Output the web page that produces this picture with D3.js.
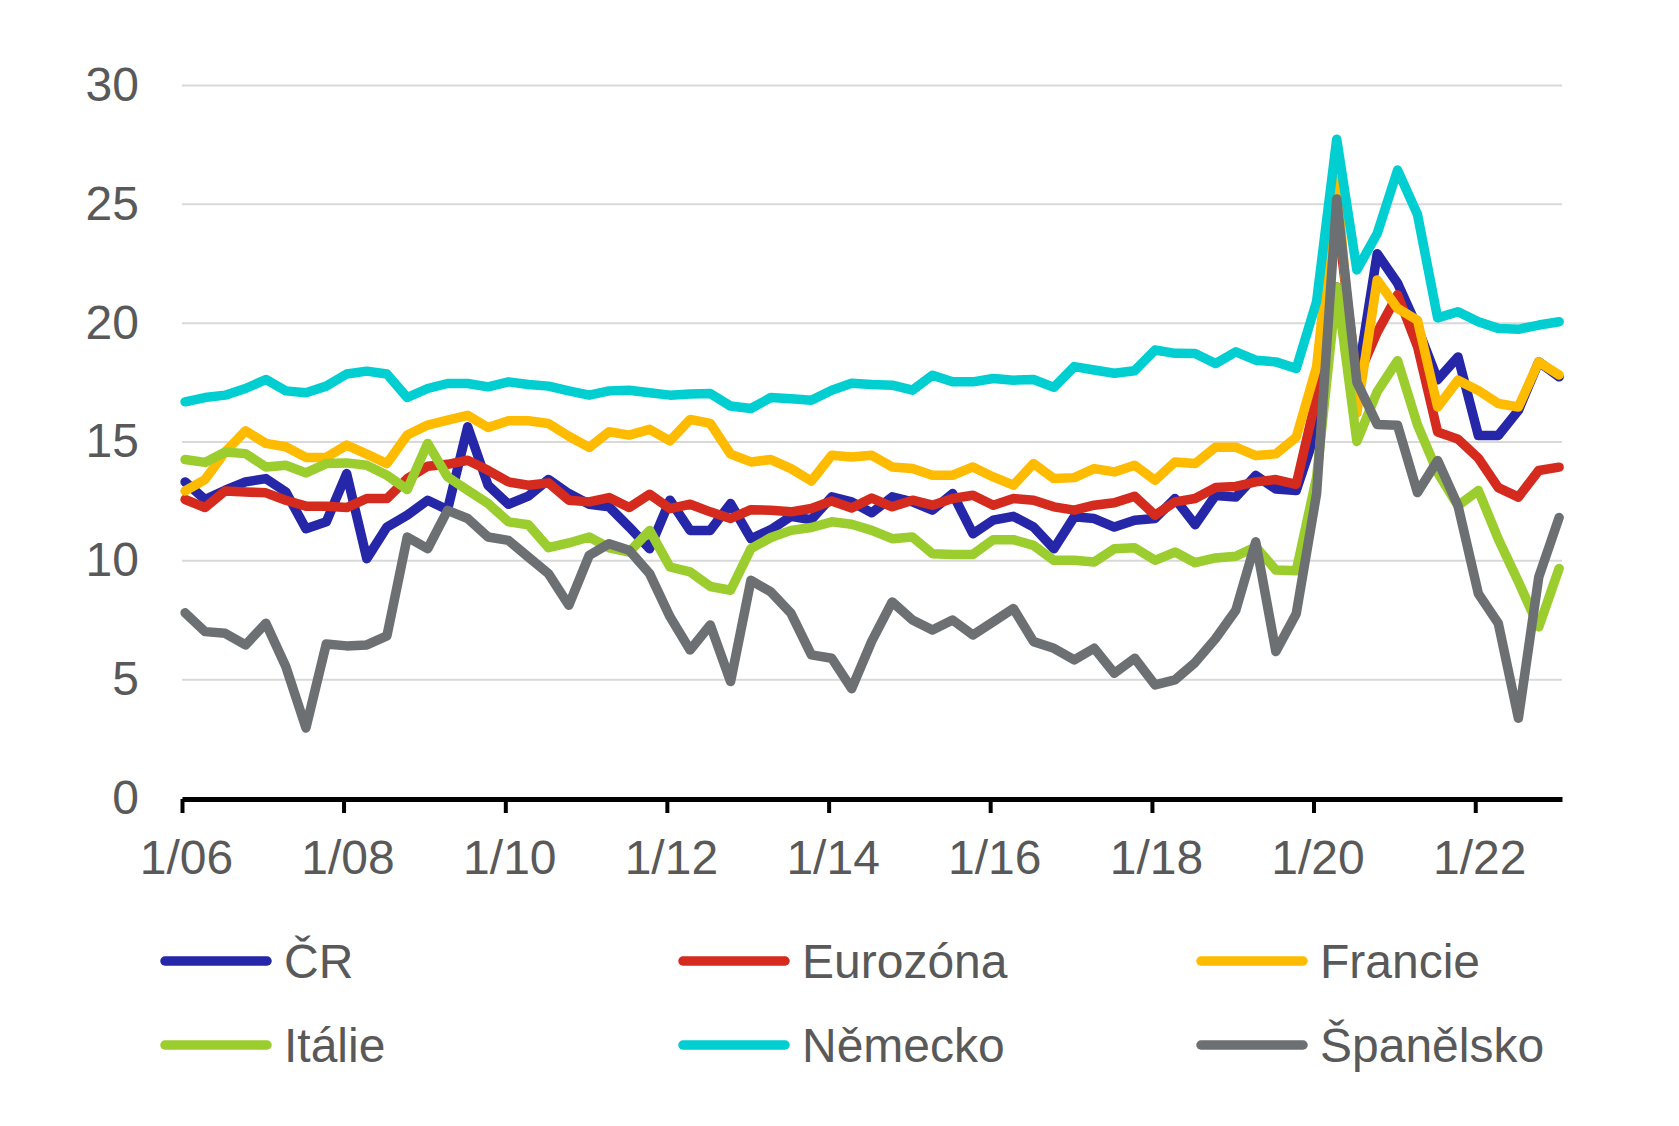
<!DOCTYPE html>
<html>
<head>
<meta charset="utf-8">
<script src="https://cdn.jsdelivr.net/npm/d3@7"></script>
<style>
  html, body { margin: 0; padding: 0; background: #ffffff; }
  svg { display: block; font-family: Arial, "Liberation Sans", sans-serif; }
</style>
</head>
<body>
<svg id="chart" width="1679" height="1126"></svg>
<script>
// ---- data (quarterly, 2006Q1 – 2023Q1) ----
const startYear = 2006;
const nQuarters = 69;
const quarters = d3.range(nQuarters).map(i => `${startYear + Math.floor(i / 4)}Q${(i % 4) + 1}`);

const seriesNames = ["ČR", "Eurozóna", "Francie", "Itálie", "Německo", "Španělsko"];
const seriesColors = ["#2626a8", "#d52b1e", "#ffbb00", "#9bcd2f", "#00ced1", "#6d7072"];

const cr = [13.3, 12.56, 12.95, 13.3, 13.44, 12.88, 11.33, 11.62, 13.65, 10.07, 11.4, 11.9, 12.53, 12.13, 15.62, 13.16, 12.36, 12.7,
  13.4, 12.81, 12.36, 12.25, 11.4, 10.49, 12.53, 11.26, 11.26, 12.39, 10.91, 11.29, 11.85, 11.71, 12.67, 12.46, 12.0,
  12.67, 12.46, 12.11, 12.81, 11.12, 11.69, 11.85, 11.4, 10.49, 11.83, 11.76, 11.4, 11.69, 11.76, 12.6, 11.5, 12.73, 12.66, 13.57, 13.0, 12.94,
  15.5, 21.5, 17.5, 22.9, 21.66, 19.8, 17.6, 18.56, 15.25, 15.25, 16.31, 18.35, 17.72];

const eurozona = [12.56, 12.22, 12.92, 12.88, 12.84, 12.53, 12.28, 12.28, 12.22, 12.6, 12.6, 13.44, 13.96, 14.04, 14.21, 13.79, 13.3, 13.16,
  13.26, 12.53, 12.46, 12.64, 12.22, 12.78, 12.18, 12.36, 12.04, 11.76, 12.13, 12.11, 12.04, 12.18, 12.5, 12.2, 12.62,
  12.25, 12.53, 12.32, 12.6, 12.74, 12.32, 12.6, 12.53, 12.25, 12.11, 12.32, 12.42, 12.7, 11.9, 12.46, 12.6, 13.06, 13.11, 13.3, 13.4, 13.2,
  16.9, 24.6, 17.6, 19.6, 21.17, 19.0, 15.4, 15.1, 14.3, 13.06, 12.66, 13.78, 13.92];

const francie = [12.92, 13.4, 14.56, 15.45, 14.92, 14.78, 14.33, 14.33, 14.85, 14.47, 14.07, 15.27, 15.69, 15.9, 16.1, 15.59, 15.87, 15.87,
  15.76, 15.22, 14.75, 15.41, 15.27, 15.51, 15.03, 15.93, 15.76, 14.47, 14.14, 14.24, 13.86, 13.34, 14.42, 14.35, 14.42,
  13.93, 13.86, 13.58, 13.58, 13.93, 13.51, 13.16, 14.07, 13.44, 13.48, 13.86, 13.72, 14.0, 13.37, 14.14, 14.07, 14.76, 14.76, 14.41, 14.48, 15.18,
  18.14, 26.0, 16.2, 21.8, 20.6, 20.1, 16.45, 17.58, 17.15, 16.6, 16.45, 18.35, 17.8];

const italie = [14.24, 14.12, 14.56, 14.49, 13.93, 14.0, 13.68, 14.07, 14.1, 14.0, 13.58, 12.98, 14.92, 13.51, 12.95, 12.39, 11.62, 11.5,
  10.53, 10.73, 10.98, 10.53, 10.35, 11.26, 9.72, 9.51, 8.9, 8.74, 10.49, 10.96, 11.26, 11.38, 11.62, 11.52, 11.26,
  10.91, 10.98, 10.28, 10.25, 10.25, 10.87, 10.87, 10.63, 10.0, 10.0, 9.93, 10.49, 10.53, 10.0, 10.35, 9.9, 10.1, 10.17, 10.57, 9.59, 9.56,
  13.5, 21.5, 15.0, 17.1, 18.4, 15.7, 13.7, 12.3, 12.94, 10.9, 9.1, 7.2, 9.66];

const nemecko = [16.67, 16.85, 16.95, 17.23, 17.61, 17.13, 17.05, 17.33, 17.84, 17.96, 17.84, 16.85, 17.23, 17.44, 17.44, 17.3, 17.51, 17.4,
  17.33, 17.13, 16.95, 17.13, 17.16, 17.05, 16.95, 17.0, 17.02, 16.49, 16.39, 16.85, 16.8, 16.74, 17.16, 17.45, 17.4,
  17.37, 17.16, 17.79, 17.51, 17.51, 17.65, 17.58, 17.61, 17.28, 18.15, 18.01, 17.87, 17.98, 18.85, 18.71, 18.7, 18.28, 18.77, 18.42, 18.35, 18.07,
  20.89, 27.72, 22.22, 23.75, 26.42, 24.55, 20.2, 20.46, 20.04, 19.76, 19.72, 19.9, 20.04];

const spanelsko = [7.79, 7.0, 6.93, 6.44, 7.35, 5.53, 2.95, 6.48, 6.4, 6.44, 6.82, 10.98, 10.49, 12.1, 11.76, 10.98, 10.84, 10.14,
  9.44, 8.11, 10.21, 10.7, 10.42, 9.44, 7.63, 6.23, 7.28, 4.9, 9.16, 8.67, 7.77, 6.02, 5.88, 4.6, 6.6,
  8.25, 7.49, 7.07, 7.49, 6.86, 7.42, 7.97, 6.58, 6.3, 5.81, 6.3, 5.25, 5.88, 4.76, 4.97, 5.7, 6.7, 7.9, 10.78, 6.16, 7.75,
  12.8, 25.2, 17.5, 15.72, 15.68, 12.85, 14.2, 12.3, 8.6, 7.35, 3.36, 9.3, 11.8];

const seriesValues = [cr, eurozona, francie, italie, nemecko, spanelsko];

const yTicks = [0, 5, 10, 15, 20, 25, 30];
const xTickLabels = ["1/06", "1/08", "1/10", "1/12", "1/14", "1/16", "1/18", "1/20", "1/22"];

// ---- layout ----
const svg = d3.select("#chart");
const textColor = "#595959";
const fontSize = 48;
const plotLeft = 182, plotRight = 1562, plotTop = 85, plotBottom = 798;

const qDate = q => new Date(+q.slice(0, 4), (+q.slice(5) - 1) * 3, 15);
const tickDates = xTickLabels.map(t => new Date(2000 + +t.split("/")[1], 0, 1));

const x = d3.scaleTime()
  .domain([new Date(2006, 0, 1), new Date(2023, 0, 28)])
  .range([plotLeft, plotRight]);
const y = d3.scaleLinear().domain([0, 30]).range([plotBottom, plotTop]);

// gridlines + y labels
const yAxis = svg.append("g")
  .attr("transform", `translate(${plotLeft},0)`)
  .call(d3.axisLeft(y).tickValues(yTicks).tickSize(-(plotRight - plotLeft)).tickPadding(43).tickFormat(d3.format("d")));
yAxis.select(".domain").remove();
yAxis.selectAll(".tick line").attr("stroke", "#d9d9d9").attr("stroke-width", 2);
yAxis.selectAll(".tick text")
  .attr("fill", textColor)
  .style("font-size", fontSize + "px")
  .style("font-family", "Arial, 'Liberation Sans', sans-serif")
  .attr("dy", "0.32em");

// lines
const line = d3.line()
  .x((d, i) => x(qDate(quarters[i])))
  .y(d => y(d));

seriesValues.forEach((vals, k) => {
  svg.append("path")
    .datum(vals)
    .attr("d", line)
    .attr("fill", "none")
    .attr("stroke", seriesColors[k])
    .attr("stroke-width", 9.5)
    .attr("stroke-linejoin", "round")
    .attr("stroke-linecap", "round");
});

// x axis
const xAxis = svg.append("g")
  .attr("transform", `translate(0,${plotBottom + 1})`)
  .call(d3.axisBottom(x).tickValues(tickDates).tickSizeOuter(0).tickSizeInner(14)
    .tickFormat((d, i) => xTickLabels[i]));
xAxis.select(".domain").attr("stroke", "#000").attr("stroke-width", 5);
xAxis.selectAll(".tick line").attr("stroke", "#000").attr("stroke-width", 4);
xAxis.selectAll(".tick text")
  .attr("fill", textColor)
  .style("font-size", fontSize + "px")
  .style("font-family", "Arial, 'Liberation Sans', sans-serif")
  .attr("y", 0)
  .attr("dy", 0)
  .attr("dx", 4)
  .attr("transform", "translate(0,75)");

// legend
const legendCols = [161, 679, 1197];
const legendRows = [961, 1045];
const legendLineLen = 110;
const legend = svg.append("g");
seriesNames.forEach((name, k) => {
  const lx = legendCols[k % 3];
  const ly = legendRows[Math.floor(k / 3)];
  legend.append("line")
    .attr("x1", lx + 4).attr("x2", lx + legendLineLen - 4)
    .attr("y1", ly).attr("y2", ly)
    .attr("stroke", seriesColors[k])
    .attr("stroke-width", 9.5)
    .attr("stroke-linecap", "round");
  legend.append("text")
    .attr("x", lx + legendLineLen + 13)
    .attr("y", ly)
    .attr("dy", "0.36em")
    .attr("fill", textColor)
    .style("font-size", fontSize + "px")
    .text(name);
});
</script>
</body>
</html>
